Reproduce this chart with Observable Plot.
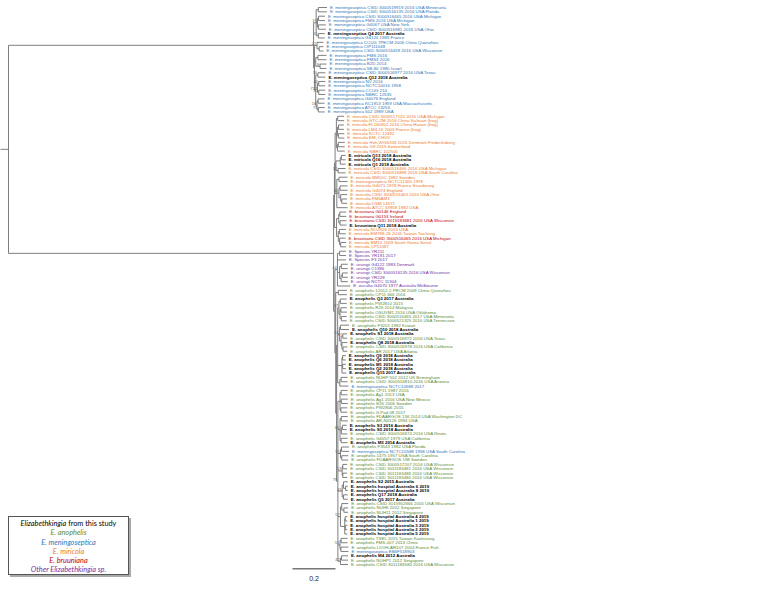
<!DOCTYPE html>
<html><head><meta charset="utf-8">
<script src="https://cdn.jsdelivr.net/npm/d3@7"></script>
<script src="https://cdn.jsdelivr.net/npm/@observablehq/plot@0.6"></script>
<style>
body{margin:0;background:#fff;}
#wrap{position:relative;width:760px;height:597px;overflow:hidden}
#legend{position:absolute;left:8px;top:516px;width:121px;height:59px;border:1px solid #555;box-shadow:2px 2px 0 #aaa;background:#fff;font-family:Lato,"DejaVu Sans",sans-serif;font-size:7.3px;text-align:center;line-height:9.3px;padding-top:2px;box-sizing:border-box}
#legend i{font-style:italic}
</style></head>
<body><div id="wrap"><div id="chart"></div><div id="legend"></div></div>
<script>
// ---- leaf labels, by clade (top to bottom) ----
const menNames = [
"E. meningoseptica CSID 3000519919 2016 USA Minnesota","E. meningoseptica CSID 3000516135 2016 USA Florida",
"E. meningoseptica CSID 3000516465 2016 USA Michigan","E. meningoseptica FMS 2016 USA Michigan",
"E. meningoseptica G4067 USA New York","E. meningoseptica CSID 3000516981 2016 USA Ohio",
"E. meningoseptica Q4 2017 Australia","E. meningoseptica G4120 1983 France",
"E. meningoseptica CCUG 7PECM 2006 China Quanzhou","E. meningoseptica CIP111048",
"E. meningoseptica CSID 3000516459 2016 USA Wisconsin","E. meningoseptica FMS 2016",
"E. meningoseptica FMS3 2016","E. meningoseptica B2D 2014",
"E. meningoseptica 5B-80 1980 Israel","E. meningoseptica CSID 3000516977 2016 USA Texas",
"E. meningoseptica Q12 2018 Australia","E. meningoseptica NV 2016",
"E. meningoseptica NCTC10016 1958","E. meningoseptica CCUG 214",
"E. meningoseptica NBRC 12535","E. meningoseptica G4076 England",
"E. meningoseptica KC1913 1959 USA Massachusetts","E. meningoseptica ATCC 13253",
"E. meningoseptica 502 1989 USA"];
const menCodes = "MMMMMMSMMMMMMMMMSMMMMMMMM";

const mbNames = [
"E. miricola CSID 3000517120 2016 USA Michigan","E. miricola GTC-2M 2016 China Sichuan (frog)",
"E. miricola FL160902 2016 China Hunan (frog)","E. miricola LM4-16 2003 France (frog)",
"E. miricola KCTC 12492","E. miricola EM_CHUV",
"E. miricola Hvh-WGS333 2015 Denmark Frederiksberg","E. miricola G9 2015 Switzerland",
"E. miricola NBRC 102505","E. miricola Q13 2018 Australia",
"E. miricola Q16 2018 Australia","E. miricola Q1 2018 Australia",
"E. miricola CSID 3000516466 2016 USA Michigan","E. miricola CSID 3000516898 2016 USA South Carolina",
"E. miricola BM10C 1982 Sweden","E. meningoseptica NCTC11305 1978",
"E. miricola G4071 1978 France Strasbourg","E. miricola G4074 England",
"E. miricola CSID 3000516463 2016 USA Ohio","E. miricola FM6AM3",
"E. miricola DSM 14571","E. miricola ATCC 33958 1982 USA",
"E. bruuniana G0146 England","E. bruuniana G0153 Ireland",
"E. bruuniana CSID 3015183681 2016 USA Wisconsin","E. bruuniana Q11 2018 Australia",
"E. miricola NO2926 2015 USA","E. miricola EM798-26 2016 Taiwan Taichung",
"E. bruuniana CSID 3000516465 2016 USA Michigan","E. miricola BM10 2009 South Korea Seoul",
"E. miricola CP11087"];
const mbCodes = "OOOOOOOOOSSSOOOOOOOOOORRRSOOROO";

const othNames = [
"E. Species YR211","E. Species YR191 2017","E. Species F3 2017",
"E. ursingii G4122 1983 Denmark","E. ursingii C1396",
"E. ursingii CSID 3000516135 2016 USA Wisconsin","E. ursingii YR228",
"E. ursingii NCTC 11304","E. occulta G4070 1977 Australia Melbourne"];
const othCodes = "PPPPPPPPP";

const anoNames = [
"E. anophelis 12012-2 PRCM 2009 China Quanzhou","E. anophelis CP11 666 2016",
"E. anophelis Q3 2017 Australia","E. anophelis PW2810 2015",
"E. anophelis R26 2014 Malaysia","E. anophelis OSUVM1 2016 USA Oklahoma",
"E. anophelis CSID 3000516465 2017 USA Minnesota","E. anophelis CSID 3000521325 2016 USA Tennessee",
"E. anophelis F3201 1982 Kuwait","E. anophelis Q10 2018 Australia",
"E. anophelis S1 2018 Australia","E. anophelis CSID 3000516972 2016 USA Texas",
"E. anophelis Q8 2018 Australia","E. anophelis CSID 3000516978 2016 USA California",
"E. anophelis AR 2017 USA Atlanta","E. anophelis Q9 2018 Australia",
"E. anophelis Q6 2018 Australia","E. anophelis M1 2018 Australia",
"E. anophelis Q2 2018 Australia","E. anophelis Q15 2017 Australia",
"E. anophelis NUHP 502 2012 UK Birmingham","E. anophelis CSID 3000516810 2016 USA Arizona",
"E. meningoseptica NCTC10588 2017","E. anophelis CP11 1987 2016",
"E. anophelis Ag1 2013 USA","E. anophelis Ag1 2016 USA New Mexico",
"E. anophelis E26 2006 Sweden","E. anophelis PW2806 2015",
"E. anophelis G Pad 08 2017","E. anophelis FDAARGOS 136 2014 USA Washington DC",
"E. anophelis AR-N0126 1994 USA","E. anophelis S3 2016 Australia",
"E. anophelis S5 2018 Australia","E. anophelis CSID 3000516874 2016 USA Illinois",
"E. anophelis G4057 1979 USA California","E. anophelis M3 2014 Australia",
"E. anophelis F3543 1982 USA Florida","E. meningoseptica NCTC10588 1958 USA South Carolina",
"E. anophelis 1475 1957 USA South Carolina","E. anophelis FDAARGOS 198 Sweden",
"E. anophelis CSID 3000517207 2016 USA Wisconsin","E. anophelis CSID 3011183481 2016 USA Wisconsin",
"E. anophelis CSID 3011183488 2016 USA Wisconsin","E. anophelis CSID 3011183480 2016 USA Wisconsin",
"E. anophelis S2 2015 Australia","E. anophelis hospital Australia 6 2019",
"E. anophelis hospital Australia 8 2019","E. anophelis Q17 2018 Australia",
"E. anophelis Q5 2017 Australia","E. anophelis CSID 3015902666 2016 USA Wisconsin",
"E. anophelis NUH6 2012 Singapore","E. anophelis NUH11 2012 Singapore",
"E. anophelis hospital Australia 4 2019","E. anophelis hospital Australia 1 2019",
"E. anophelis hospital Australia 3 2019","E. anophelis hospital Australia 2 2019",
"E. anophelis hospital Australia 5 2019","E. anophelis TSEL 2015 Taiwan Kaohsiung",
"E. anophelis FMS-007 2013 China","E. anophelis LDVH-AR107 2004 France Fish",
"E. meningoseptica EB6F518903","E. anophelis M4 2012 Australia",
"E. anophelis NUHP1 2012 Singapore","E. anophelis CSID 3011183580 2016 USA Wisconsin"];
const anoCodes = "AASAAAAAASSASAASSSSSAAMAAAAAAAASSAASAMAAAAAASSSSSAAASSSSSAAAMSAA";

// ---- tree topology (Newick pieces; leaves = label index, internal names = support) ----
const menTopTree = "((0:0.04,1:0.04):0.01,((2:0.03,3:0.03):0.005,(4:0.035,5:0.035):0.004)19:0.006,(6:0.03,7:0.03)15:0.01)";
const menLowTree = "((8:0.03,(9:0.02,10:0.02):0.01)22:0.012,((11:0.04,12:0.04):0.01,(13:0.03,14:0.03)8:0.02):0.006,((15:0.035,16:0.035)16:0.01,((17:0.03,18:0.03)40:0.006,(19:0.03,20:0.03)21:0.006):0.008,((21:0.03,22:0.03):0.005,(23:0.03,24:0.03)79:0.006)16:0.006)72:0.006)";
const mirTree = "(((25:0.03,26:0.03):0.006,((27:0.025,28:0.025):0.005,(29:0.028,30:0.028):0.004):0.005,((31:0.03,32:0.03):0.004,33:0.034):0.005):0.006,(((34:0.02,35:0.02):0.005,36:0.025):0.02,(37:0.035,38:0.035)32:0.01):0.004,((39:0.04,40:0.04):0.01,((41:0.035,42:0.035):0.005,(43:0.03,(44:0.025,45:0.025):0.005):0.008)40:0.01,46:0.05):0.008)";
const bruTree = "(((47:0.03,48:0.03):0.005,(49:0.03,50:0.03):0.006):0.01,((51:0.03,52:0.03):0.005,(53:0.028,(54:0.025,55:0.025):0.005):0.006):0.008)";
const othTree = "((56:0.03,57:0.03):0.01,58:0.04,((59:0.03,60:0.03):0.008,((61:0.025,62:0.025):0.006,63:0.031):0.007):0.01,64:0.06)";
const anoBaseTree = "(65:0.04,66:0.04)";
const ano1Tree = "(((67:0.03,68:0.03):0.006,((69:0.028,70:0.028):0.004,(71:0.025,72:0.025):0.006):0.005)37:0.006,((73:0.04,74:0.04):0.005,((75:0.02,76:0.02)97:0.008,(77:0.025,(78:0.02,79:0.02):0.005):0.004):0.008)57:0.008,((80:0.015,81:0.015):0.003,(82:0.015,83:0.015):0.003,84:0.02):0.02,((85:0.03,86:0.03):0.006,87:0.04):0.01)";
const ano2Tree = "(((88:0.03,89:0.03):0.005,(90:0.03,91:0.03):0.006,(92:0.03,93:0.03):0.004):0.01,((94:0.03,95:0.03):0.006,((96:0.02,97:0.02):0.005,98:0.028):0.006,(99:0.03,100:0.03):0.005)66:0.01,((101:0.035,102:0.035):0.005,(103:0.03,104:0.03):0.006)55:0.012,((105:0.02,106:0.02):0.003,(107:0.02,108:0.02):0.003)53:0.02,((109:0.02,(110:0.01,111:0.01):0.01):0.006,(112:0.02,113:0.02):0.006)43:0.02,((114:0.03,(115:0.02,116:0.02):0.01):0.006,((117:0.01,118:0.01):0.002,(119:0.01,120:0.01):0.002,121:0.012):0.02)57:0.012,((122:0.03,123:0.03):0.005,(124:0.035,125:0.035):0.004)51:0.01,((126:0.03,127:0.03):0.005,128:0.035)42:0.012)";
const rootBranches = {men: 1.419, rest: 1.512};
const scaleBarLength = 0.2;

const palette = {M:"#2f75b5", A:"#5a8a32", O:"#ea7a2c", R:"#c00000", P:"#7030a0", S:"#000000"};

// ---- assemble ----
const names = [...menNames, ...mbNames, ...othNames, ...anoNames];
const codes = (menCodes + mbCodes + othCodes + anoCodes).split("");
const N = names.length;

const menTree = "(" + menTopTree + ":0.012," + menLowTree + ":0.004)";
const anoRest = "(" + ano1Tree + ":0.005," + ano2Tree + "79:0.006)";
const anoTree = "(" + anoBaseTree + ":0.012," + anoRest + ":0.004)";
const oaTree = "(" + othTree + "44:0.012," + anoTree + ":0.004)";
const mbTree = "(" + mirTree + ":0.003," + bruTree + ":0.01)";
const restTree = "(" + mbTree + ":0.004," + oaTree + ":0.006)";
const newick = "(" + menTree + ":" + rootBranches.men + "," + restTree + ":" + rootBranches.rest + ");";

function parse(s){
  let i = 0;
  function node(){
    const n = {children: []};
    if (s[i] === "("){
      i++;
      for(;;){ n.children.push(node()); if (s[i] === ","){ i++; } else break; }
      i++;
    }
    let name = "";
    while (i < s.length && !":,();".includes(s[i])) name += s[i++];
    n.name = name; n.len = 0;
    if (s[i] === ":"){ i++; let num = ""; while (i < s.length && !",();".includes(s[i])) num += s[i++]; n.len = +num; }
    return n;
  }
  return node();
}
const root = parse(newick);
const hsegs = [], vsegs = [], leaves = [], supports = [];
function walk(n, pd){
  n.d = pd + n.len;
  if (n.children.length){
    n.children.forEach(c => walk(c, n.d));
    const f = n.children[0], l = n.children[n.children.length - 1];
    n.y = (f.y + l.y) / 2;
    vsegs.push({x: n.d, y1: f.y, y2: l.y});
    n.children.forEach(c => hsegs.push({x1: n.d, x2: c.d, y: c.y}));
    if (n.name) supports.push({d: n.d, y: n.y, s: n.name});
  } else {
    n.y = +n.name;
    const i = +n.name;
    leaves.push({d: n.d, y: i, name: names[i], code: codes[i]});
  }
}
walk(root, 0);
const pxPerUnit = 215;
hsegs.push({x1: -8 / pxPerUnit, x2: 0, y: root.y});

const sbX = 1.321;
const bar = [{x1: sbX, x2: sbX + scaleBarLength, y: N - 1 + 1.0}];

const font = "'Liberation Sans', Arial, sans-serif";
const chart = Plot.plot({
  width: 760, height: 597,
  marginLeft: 0, marginRight: 0, marginTop: 7, marginBottom: 33,
  x: {domain: [-8 / pxPerUnit, 752 / pxPerUnit], axis: null},
  y: {domain: [0, N - 1], reverse: true, axis: null},
  style: {background: "#fff", overflow: "visible"},
  marks: [
    Plot.link(hsegs, {x1: "x1", x2: "x2", y1: "y", y2: "y", stroke: "#707070", strokeWidth: 0.9}),
    Plot.link(vsegs, {x1: "x", x2: "x", y1: "y1", y2: "y2", stroke: "#707070", strokeWidth: 0.9}),
    Plot.text(leaves.filter(d => d.code !== "S"), {x: "d", y: "y", text: "name", fill: d => palette[d.code], textAnchor: "start", dx: 3, fontSize: 4.4, fontFamily: font}),
    Plot.text(leaves.filter(d => d.code === "S"), {x: "d", y: "y", text: "name", fill: "#000", fontWeight: "bold", textAnchor: "start", dx: 3, fontSize: 4.4, fontFamily: font}),
    Plot.text(supports, {x: "d", y: "y", text: "s", textAnchor: "end", dx: -0.8, dy: -1.8, fontSize: 4, fill: "#666", fontFamily: font}),
    Plot.link(bar, {x1: "x1", x2: "x2", y1: "y", y2: "y", stroke: "#333", strokeWidth: 1}),
    Plot.text(bar, {x: d => (d.x1 + d.x2) / 2, y: d => d.y + 2.2, text: () => String(scaleBarLength), fontSize: 7, fill: "#222", fontFamily: font})
  ]
});
document.getElementById("chart").appendChild(chart);

const legendItems = [
  {html: "<i>Elizabethkingia</i> from this study", color: "#000"},
  {html: "<i>E. anophelis</i>", color: palette.A},
  {html: "<i>E. meningoseptica</i>", color: palette.M},
  {html: "<i>E. miricola</i>", color: palette.O},
  {html: "<i>E. bruuniana</i>", color: palette.R},
  {html: "<i>Other Elizabethkingia sp.</i>", color: palette.P}
];
document.getElementById("legend").innerHTML = legendItems.map(d => `<div style="color:${d.color}">${d.html}</div>`).join("");
</script></body></html>
